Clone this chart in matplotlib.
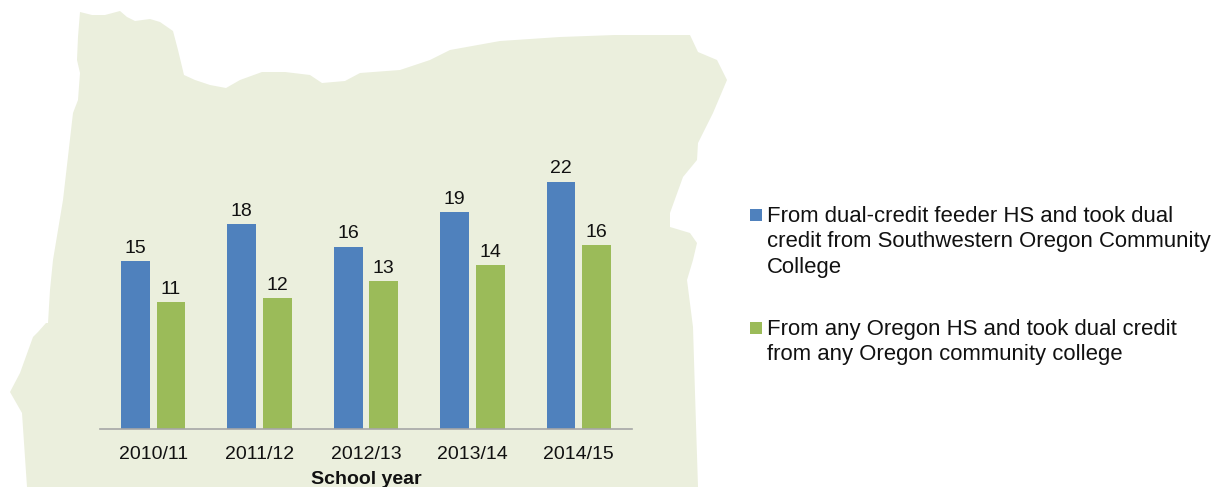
import matplotlib
matplotlib.use('Agg')
import matplotlib.pyplot as plt
from matplotlib.patches import Polygon, Rectangle
import numpy as np

plt.rcParams['font.family'] = ['Liberation Sans', 'DejaVu Sans']

W, H = 1212, 487

years = ['2010/11', '2011/12', '2012/13', '2013/14', '2014/15']
feeder_hs = [14.7, 18.0, 16.0, 19.0, 21.7]
any_hs = [11.1, 11.5, 13.0, 14.4, 16.1]

legend_labels = [
    'From dual-credit feeder HS and took dual\n'
    'credit from Southwestern Oregon Community\n'
    'College',
    'From any Oregon HS and took dual credit\n'
    'from any Oregon community college',
]

BLUE = '#4F81BD'
GREEN = '#9BBB59'
MAP_COLOR = '#EBEFDD'

# silueta de Oregon de fondo, en pixeles de la imagen
oregon_outline = [
    (80, 12), (92, 15), (105, 15), (120, 11), (127, 17), (135, 21), (150, 19),
    (160, 22), (173, 31), (178, 50), (184, 75), (195, 80), (210, 85), (226, 88),
    (240, 80), (262, 72), (285, 72), (310, 75), (322, 83), (345, 81), (360, 73),
    (400, 70), (430, 60), (450, 50), (500, 41), (560, 37), (615, 35), (690, 35),
    (698, 52), (717, 60), (727, 80), (713, 113), (698, 143), (697, 160),
    (683, 177), (670, 213), (670, 227), (690, 233), (697, 243), (693, 260),
    (687, 280), (693, 327), (695, 393), (698, 487), (27, 487), (22, 413),
    (10, 392), (20, 373), (33, 337), (38, 332), (46, 323), (48, 323), (50, 290),
    (53, 260), (63, 200), (73, 113), (78, 100), (80, 73), (77, 60), (78, 37),
]

fig = plt.figure(figsize=(W / 100, H / 100), dpi=100)

# fondo con el mapa
bg = fig.add_axes([0, 0, 1, 1])
bg.set_xlim(0, W)
bg.set_ylim(H, 0)
bg.axis('off')
bg.add_patch(Polygon(oregon_outline, closed=True, facecolor=MAP_COLOR, edgecolor='none'))

# ejes del grafico
left, right, base, top = 100, 632, 429, 150
ax = fig.add_axes([left / W, 1 - base / H, (right - left) / W, (base - top) / H])
ax.patch.set_alpha(0)

x = np.arange(len(years))
bar_w = 0.27
off = 0.167
bars1 = ax.bar(x - off, feeder_hs, bar_w, color=BLUE)
bars2 = ax.bar(x + off, any_hs, bar_w, color=GREEN)

ax.set_xlim(-0.5, len(years) - 0.5)
ax.set_ylim(0, (base - top) / 11.4)
ax.bar_label(bars1, fmt='%.0f', padding=3, fontsize=14, color='#111111')
ax.bar_label(bars2, fmt='%.0f', padding=3, fontsize=14, color='#111111')

ax.set_xticks(x)
ax.set_xticklabels(years, fontsize=14, color='#111111')
ax.set_yticks([])
ax.tick_params(axis='x', length=0, pad=12)
ax.set_xlabel('School year', fontsize=14, fontweight='bold', labelpad=6, color='#111111')
for s in ['top', 'left', 'right']:
    ax.spines[s].set_visible(False)
ax.spines['bottom'].set_color('#A6A6A6')
ax.spines['bottom'].set_linewidth(1.2)

# leyenda a mano para colocar los cuadrados en la primera linea
for color, label, sq_y in zip([BLUE, GREEN], legend_labels, [209, 322]):
    bg.add_patch(Rectangle((750, sq_y), 12, 12, facecolor=color, edgecolor='none'))
    bg.text(767, sq_y - 3, label, fontsize=15.95, color='#111111', va='top', ha='left',
            linespacing=1.28)

fig.savefig('out.png', dpi=100)
